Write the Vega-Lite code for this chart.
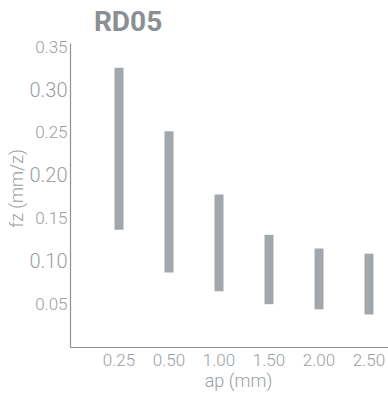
{
  "$schema": "https://vega.github.io/schema/vega-lite/v6.json",
  "autosize": "none",
  "width": 348,
  "height": 304,
  "padding": {"left": 70, "top": 43, "right": 0, "bottom": 53},
  "title": {
    "text": "RD05",
    "anchor": "start",
    "dx": 85,
    "offset": 1,
    "font": "Roboto",
    "fontSize": 28,
    "fontWeight": "bold",
    "color": "#8a8f94"
  },
  "config": {
    "view": {"stroke": null},
    "font": "Roboto"
  },
  "data": {
    "values": [
      {"ap": "0.25", "low": 0.137, "high": 0.326},
      {"ap": "0.50", "low": 0.087, "high": 0.252},
      {"ap": "1.00", "low": 0.065, "high": 0.178},
      {"ap": "1.50", "low": 0.050, "high": 0.131},
      {"ap": "2.00", "low": 0.044, "high": 0.115},
      {"ap": "2.50", "low": 0.038, "high": 0.109}
    ]
  },
  "mark": {"type": "bar", "width": 9, "color": "#a2a7ac"},
  "encoding": {
    "x": {
      "field": "ap",
      "type": "ordinal",
      "sort": null,
      "scale": {"paddingInner": 0, "paddingOuter": 0.48},
      "axis": {
        "title": "ap (mm)",
        "titleX": 168,
        "labelAngle": 0,
        "ticks": false,
        "domainColor": "#8c9196",
        "domainWidth": 1.2,
        "labelColor": "#9a9ea3",
        "labelFontSize": 17,
        "labelFontWeight": 300,
        "labelPadding": 5,
        "titleFontSize": 18,
        "titleFontWeight": 300,
        "titleColor": "#9a9ea3",
        "titlePadding": 4
      }
    },
    "y": {
      "field": "low",
      "type": "quantitative",
      "scale": {"domain": [0, 0.355], "nice": false},
      "axis": {
        "title": "fz (mm/z)",
        "titleY": 145,
        "values": [0.05, 0.10, 0.15, 0.20, 0.25, 0.30, 0.35],
        "format": ".2f",
        "grid": false,
        "ticks": false,
        "domainColor": "#8c9196",
        "domainWidth": 1.2,
        "labelColor": "#9a9ea3",
        "labelFontSize": {"expr": "round(datum.value*100) % 10 == 0 ? 20 : 17"},
        "labelFontWeight": 300,
        "labelPadding": 3,
        "titleFontSize": 18,
        "titleFontWeight": 300,
        "titleColor": "#9a9ea3",
        "titlePadding": 2
      }
    },
    "y2": {"field": "high"}
  }
}
